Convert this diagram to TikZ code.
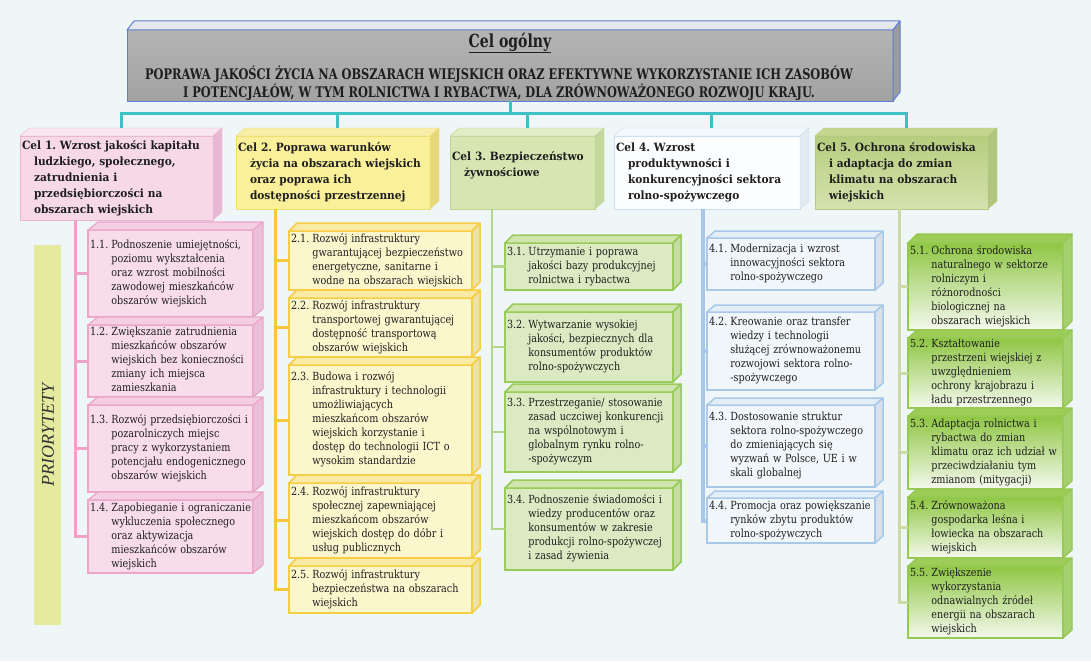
\documentclass[tikz,border=0pt]{standalone}
\usepackage{fontspec}
\setmainfont{DejaVu Serif}[FakeStretch=0.93]
\newfontfamily\subfam{DejaVu Serif}[FakeStretch=0.86]
\newfontfamily\condfont{DejaVu Serif}[FakeStretch=0.78]
\newfontfamily\prifont{Liberation Serif}
\usetikzlibrary{calc}
\frenchspacing
\definecolor{bg}{HTML}{EEF6F7}
\definecolor{txt}{HTML}{1E1E1E}
\definecolor{tealL}{HTML}{3EC1C3}
\definecolor{topA}{HTML}{B4B4B4}\definecolor{topB}{HTML}{A2A2A2}
\definecolor{topD}{HTML}{5F7ED0}\definecolor{topT}{HTML}{E4E8EC}\definecolor{topS}{HTML}{9C9C9C}
\definecolor{pinkL}{HTML}{F3A0C6}
\definecolor{c1F}{HTML}{F7D8E7}\definecolor{c1D}{HTML}{E8B4D0}\definecolor{c1T}{HTML}{FAE6F0}\definecolor{c1S}{HTML}{E6B9D3}
\definecolor{s1F}{HTML}{F8DCEA}\definecolor{s1D}{HTML}{EDA6CA}\definecolor{s1T}{HTML}{F4CEE1}\definecolor{s1S}{HTML}{ECBFD8}
\definecolor{yelL}{HTML}{F6C73A}
\definecolor{c2F}{HTML}{FAF09A}\definecolor{c2D}{HTML}{EEDD70}\definecolor{c2T}{HTML}{F7EDA6}\definecolor{c2S}{HTML}{E6D878}
\definecolor{s2F}{HTML}{FBF6CC}\definecolor{s2D}{HTML}{F6CE45}\definecolor{s2T}{HTML}{F9EBA5}\definecolor{s2S}{HTML}{ECE2A4}
\definecolor{grnL}{HTML}{B4D58A}
\definecolor{c3F}{HTML}{D6E6B3}\definecolor{c3D}{HTML}{BFD693}\definecolor{c3T}{HTML}{E0EDC6}\definecolor{c3S}{HTML}{C3D89B}
\definecolor{s3F}{HTML}{DBEAC2}\definecolor{s3D}{HTML}{98CB58}\definecolor{s3T}{HTML}{D0E4AE}\definecolor{s3S}{HTML}{C6DCA6}
\definecolor{bluL}{HTML}{A7C7EA}
\definecolor{c4F}{HTML}{FCFDFE}\definecolor{c4D}{HTML}{C9DDF0}\definecolor{c4T}{HTML}{F3F8FC}\definecolor{c4S}{HTML}{E2EAF2}
\definecolor{s4F}{HTML}{F0F6F9}\definecolor{s4D}{HTML}{A9C8EA}\definecolor{s4T}{HTML}{E4EEF6}\definecolor{s4S}{HTML}{D6E1EC}
\definecolor{oliL}{HTML}{CDD9A6}
\definecolor{c5A}{HTML}{B6CD7E}\definecolor{c5B}{HTML}{D4E2AE}\definecolor{c5D}{HTML}{B3CA80}\definecolor{c5T}{HTML}{C3D78E}\definecolor{c5S}{HTML}{B0C67E}
\definecolor{s5A}{HTML}{8FC643}\definecolor{s5B}{HTML}{F4F9EE}\definecolor{s5D}{HTML}{95C951}\definecolor{s5T}{HTML}{9DCC58}\definecolor{s5S}{HTML}{A6CF6D}
\definecolor{priB}{HTML}{E4EB9F}\definecolor{priT}{HTML}{333333}
\newcommand\subfont{\subfam\fontsize{11.2}{14}\selectfont}
\newcommand\celfont{\bfseries\fontsize{11.4}{16}\selectfont}
\newcommand\subtxt[2]{\noindent\begin{tabular}{@{}l@{\hspace{3pt}}l@{}}#1&#2\end{tabular}}
\newcommand\celtxt[1]{\noindent\begin{tabular}{@{}l@{}}#1\end{tabular}}
\newcommand\ind{\hspace*{12pt}}
\newcommand\cubefaces[5]{%
 \filldraw[#5,fill=#3,line join=round] (#1.north west) -- ++(#2) -- ($(#1.north east)+(#2)$) -- (#1.north east) -- cycle;
 \filldraw[#5,fill=#4,line join=round] (#1.north east) -- ++(#2) -- ($(#1.south east)+(#2)$) -- (#1.south east) -- cycle;}
\begin{document}
\begin{tikzpicture}[x=1pt,y=-1pt,
  every node/.style={outer sep=0pt},
  cel/.style={rectangle, anchor=north west, inner xsep=2pt, inner ysep=0pt, font=\celfont, text=txt, align=left},
  subb/.style={rectangle, anchor=north west, inner xsep=2pt, inner ysep=0pt, font=\subfont, text=txt, align=left},
  conn/.style={line width=3pt, line join=miter},
  col1/.style={fill=s1F, draw=s1D, line width=1.2pt, minimum width=165pt, text width=161pt},
  col2/.style={fill=s2F, draw=s2D, line width=1.5pt, minimum width=183pt, text width=179pt},
  col3/.style={fill=s3F, draw=s3D, line width=1.5pt, minimum width=168pt, text width=164pt},
  col4/.style={fill=s4F, draw=s4D, line width=1.5pt, minimum width=168pt, text width=164pt},
  col5/.style={top color=s5A, bottom color=s5B, draw=s5D, line width=1.2pt, minimum width=155pt, text width=151pt},
]
\fill[bg] (0,0) rectangle (1091,661);
\useasboundingbox (0,0) rectangle (1091,661);

% ---- top box
\node[anchor=north west, minimum width=766pt, minimum height=71pt, top color=topA, bottom color=topB, draw=topD, line width=1pt] (top) at (127,30) {};
\cubefaces{top}{7,-9}{topT}{topS}{draw=topD,line width=1pt}
\node[font=\condfont\bfseries\fontsize{18}{18}\selectfont, text=txt] (title) at (510,43) {\underline{Cel ogólny}};
\node[font=\condfont\bfseries\fontsize{14.6}{16}\selectfont, text=txt, align=center] (goal) at (499,83) {POPRAWA JAKOŚCI ŻYCIA NA OBSZARACH WIEJSKICH ORAZ EFEKTYWNE WYKORZYSTANIE ICH ZASOBÓW\\I POTENCJAŁÓW, W TYM ROLNICTWA I RYBACTWA, DLA ZRÓWNOWAŻONEGO ROZWOJU KRAJU.};

% ---- priorities bar
\node[anchor=north west, fill=priB, minimum width=27pt, minimum height=380pt, inner sep=0pt] (pri) at (34,245) {};
\node[rotate=90, font=\prifont\itshape\fontsize{18}{18}\selectfont, text=priT] (pritxt) at (48,435) {PRIORYTETY};

% ---- goal boxes
\node[cel, fill=c1F, draw=c1D, minimum width=193pt, minimum height=84pt, text width=189pt] (c1) at (20,136)
 {\celtxt{Cel 1. Wzrost jakości kapitału\\\ind ludzkiego, społecznego,\\\ind zatrudnienia i\\\ind przedsiębiorczości na\\\ind obszarach wiejskich}};
\cubefaces{c1}{9,-8}{c1T}{c1S}{draw=c1D}
\node[cel, fill=c2F, draw=c2D, minimum width=194pt, minimum height=73pt, text width=190pt] (c2) at (236,136)
 {\celtxt{Cel 2. Poprawa warunków\\\ind życia na obszarach wiejskich\\\ind oraz poprawa ich\\\ind dostępności przestrzennej}};
\cubefaces{c2}{9,-8}{c2T}{c2S}{draw=c2D}
\node[cel, fill=c3F, draw=c3D, minimum width=145pt, minimum height=73pt, text width=141pt] (c3) at (450,136)
 {\raisebox{7pt}[\height][\depth]{\celtxt{Cel 3. Bezpieczeństwo\\\ind żywnościowe}}};
\cubefaces{c3}{9,-8}{c3T}{c3S}{draw=c3D}
\node[cel, fill=c4F, draw=c4D, minimum width=186pt, minimum height=73pt, text width=182pt] (c4) at (614,136)
 {\celtxt{Cel 4. Wzrost\\\ind produktywności i\\\ind konkurencyjności sektora\\\ind rolno-spożywczego}};
\cubefaces{c4}{9,-8}{c4T}{c4S}{draw=c4D}
\node[cel, top color=c5A, bottom color=c5B, draw=c5D, minimum width=173pt, minimum height=73pt, text width=169pt] (c5) at (815,136)
 {\celtxt{Cel 5. Ochrona środowiska\\\ind i adaptacja do zmian\\\ind klimatu na obszarach\\\ind wiejskich}};
\cubefaces{c5}{9,-8}{c5T}{c5S}{draw=c5D}

% ---- column 1
\node[subb, col1, minimum height=87pt] (s11) at (88,230) {\subtxt{1.1.}{Podnoszenie umiejętności,\\& poziomu wykształcenia\\& oraz wzrost mobilności\\& zawodowej mieszkańców\\& obszarów wiejskich}};
\cubefaces{s11}{10,-8}{s1T}{s1S}{draw=s1D,line width=1.2pt}
\node[subb, col1, minimum height=72pt] (s12) at (88,325) {\subtxt{1.2.}{Zwiększanie zatrudnienia\\& mieszkańców obszarów\\& wiejskich bez konieczności\\& zmiany ich miejsca\\& zamieszkania}};
\cubefaces{s12}{10,-8}{s1T}{s1S}{draw=s1D,line width=1.2pt}
\node[subb, col1, minimum height=87pt] (s13) at (88,405) {\subtxt{1.3.}{Rozwój przedsiębiorczości i\\& pozarolniczych miejsc\\& pracy z wykorzystaniem\\& potencjału endogenicznego\\& obszarów wiejskich}};
\cubefaces{s13}{10,-8}{s1T}{s1S}{draw=s1D,line width=1.2pt}
\node[subb, col1, minimum height=73pt] (s14) at (88,500) {\subtxt{1.4.}{Zapobieganie i ograniczanie\\& wykluczenia społecznego\\& oraz aktywizacja\\& mieszkańców obszarów\\& wiejskich}};
\cubefaces{s14}{10,-8}{s1T}{s1S}{draw=s1D,line width=1.2pt}

% ---- column 2
\node[subb, col2, minimum height=59pt] (s21) at (289,231) {\subtxt{2.1.}{Rozwój infrastruktury\\& gwarantującej bezpieczeństwo\\& energetyczne, sanitarne i\\& wodne na obszarach wiejskich}};
\cubefaces{s21}{8,-8}{s2T}{s2S}{draw=s2D,line width=1.5pt}
\node[subb, col2, minimum height=59pt] (s22) at (289,298) {\subtxt{2.2.}{Rozwój infrastruktury\\& transportowej gwarantującej\\& dostępność transportową\\& obszarów wiejskich}};
\cubefaces{s22}{8,-8}{s2T}{s2S}{draw=s2D,line width=1.5pt}
\node[subb, col2, minimum height=110pt] (s23) at (289,365) {\subtxt{2.3.}{Budowa i rozwój\\& infrastruktury i technologii\\& umożliwiających\\& mieszkańcom obszarów\\& wiejskich korzystanie i\\& dostęp do technologii ICT o\\& wysokim standardzie}};
\cubefaces{s23}{8,-8}{s2T}{s2S}{draw=s2D,line width=1.5pt}
\node[subb, col2, minimum height=75pt] (s24) at (289,483) {\subtxt{2.4.}{Rozwój infrastruktury\\& społecznej zapewniającej\\& mieszkańcom obszarów\\& wiejskich dostęp do dóbr i\\& usług publicznych}};
\cubefaces{s24}{8,-8}{s2T}{s2S}{draw=s2D,line width=1.5pt}
\node[subb, col2, minimum height=47pt] (s25) at (289,566) {\subtxt{2.5.}{Rozwój infrastruktury\\& bezpieczeństwa na obszarach\\& wiejskich}};
\cubefaces{s25}{8,-8}{s2T}{s2S}{draw=s2D,line width=1.5pt}

% ---- column 3
\node[subb, col3, minimum height=47pt] (s31) at (505,243) {\subtxt{3.1.}{Utrzymanie i poprawa\\& jakości bazy produkcyjnej\\& rolnictwa i rybactwa}};
\cubefaces{s31}{8,-8}{s3T}{s3S}{draw=s3D,line width=1.5pt}
\node[subb, col3, minimum height=70pt] (s32) at (505,312) {\subtxt{3.2.}{Wytwarzanie wysokiej\\& jakości, bezpiecznych dla\\& konsumentów produktów\\& rolno-spożywczych}};
\cubefaces{s32}{8,-8}{s3T}{s3S}{draw=s3D,line width=1.5pt}
\node[subb, col3, minimum height=80pt] (s33) at (505,392) {\subtxt{3.3.}{Przestrzeganie/ stosowanie\\& zasad uczciwej konkurencji\\& na wspólnotowym i\\& globalnym rynku rolno-\\& -spożywczym}};
\cubefaces{s33}{8,-8}{s3T}{s3S}{draw=s3D,line width=1.5pt}
\node[subb, col3, minimum height=82pt] (s34) at (505,488) {\subtxt{3.4.}{Podnoszenie świadomości i\\& wiedzy producentów oraz\\& konsumentów w zakresie\\& produkcji rolno-spożywczej\\& i zasad żywienia}};
\cubefaces{s34}{8,-8}{s3T}{s3S}{draw=s3D,line width=1.5pt}

% ---- column 4
\node[subb, col4, minimum height=52pt] (s41) at (707,238) {\subtxt{4.1.}{Modernizacja i wzrost\\& innowacyjności sektora\\& rolno-spożywczego}};
\cubefaces{s41}{8,-7}{s4T}{s4S}{draw=s4D,line width=1.5pt}
\node[subb, col4, minimum height=78pt] (s42) at (707,312) {\subtxt{4.2.}{Kreowanie oraz transfer\\& wiedzy i technologii\\& służącej zrównoważonemu\\& rozwojowi sektora rolno-\\& -spożywczego}};
\cubefaces{s42}{8,-7}{s4T}{s4S}{draw=s4D,line width=1.5pt}
\node[subb, col4, minimum height=82pt] (s43) at (707,405) {\subtxt{4.3.}{Dostosowanie struktur\\& sektora rolno-spożywczego\\& do zmieniających się\\& wyzwań w Polsce, UE i w\\& skali globalnej}};
\cubefaces{s43}{8,-7}{s4T}{s4S}{draw=s4D,line width=1.5pt}
\node[subb, col4, minimum height=45pt] (s44) at (707,498) {\subtxt{4.4.}{Promocja oraz powiększanie\\& rynków zbytu produktów\\& rolno-spożywczych}};
\cubefaces{s44}{8,-7}{s4T}{s4S}{draw=s4D,line width=1.5pt}

% ---- column 5
\node[subb, col5, minimum height=87pt] (s51) at (908,243) {\subtxt{5.1.}{Ochrona środowiska\\& naturalnego w sektorze\\& rolniczym i\\& różnorodności\\& biologicznej na\\& obszarach wiejskich}};
\cubefaces{s51}{9,-9}{s5T}{s5S}{draw=s5D,line width=1.2pt}
\node[subb, col5, minimum height=70pt] (s52) at (908,338) {\subtxt{5.2.}{Kształtowanie\\& przestrzeni wiejskiej z\\& uwzględnieniem\\& ochrony krajobrazu i\\& ładu przestrzennego}};
\cubefaces{s52}{9,-8}{s5T}{s5S}{draw=s5D,line width=1.2pt}
\node[subb, col5, minimum height=73pt] (s53) at (908,416) {\subtxt{5.3.}{Adaptacja rolnictwa i\\& rybactwa do zmian\\& klimatu oraz ich udział w\\& przeciwdziałaniu tym\\& zmianom (mitygacji)}};
\cubefaces{s53}{9,-8}{s5T}{s5S}{draw=s5D,line width=1.2pt}
\node[subb, col5, minimum height=61pt] (s54) at (908,497) {\subtxt{5.4.}{Zrównoważona\\& gospodarka leśna i\\& łowiecka na obszarach\\& wiejskich}};
\cubefaces{s54}{9,-8}{s5T}{s5S}{draw=s5D,line width=1.2pt}
\node[subb, col5, minimum height=72pt] (s55) at (908,566) {\subtxt{5.5.}{Zwiększenie\\& wykorzystania\\& odnawialnych źródeł\\& energii na obszarach\\& wiejskich}};
\cubefaces{s55}{9,-8}{s5T}{s5S}{draw=s5D,line width=1.2pt}

% ---- teal connectors from the main goal
\coordinate (bus) at (0,113);
\foreach \c in {c1,c2,c3,c4,c5} \coordinate (\c t) at ($(\c.north)+(4.5,-8)$);
\draw[conn, tealL] (top.south) -- (top.south |- bus);
\draw[conn, tealL] (c1t) -- (c1t |- bus) -- (c5t |- bus) -- (c5t);
\foreach \c in {c2,c3,c4} \draw[conn, tealL] (\c t |- bus) -- (\c t);

% ---- column connectors
\coordinate (v1) at (75,0);
\draw[conn, pinkL] (v1 |- c1.south) |- (s14.west);
\foreach \s in {s11,s12,s13} \draw[conn, pinkL] (v1 |- \s.west) -- (\s.west);
\coordinate (v2) at (275,0);
\draw[conn, yelL] (v2 |- c2.south) |- (s25.west);
\foreach \s in {s21,s22,s23,s24} \draw[conn, yelL] (v2 |- \s.west) -- (\s.west);
\coordinate (v3) at (492,0);
\draw[conn, grnL, line width=2.5pt] (v3 |- c3.south) |- (s34.west);
\foreach \s in {s31,s32,s33} \draw[conn, grnL, line width=2.5pt] (v3 |- \s.west) -- (\s.west);
\coordinate (v4) at (703,0);
\draw[conn, bluL, line width=4pt] (v4 |- c4.south) |- (s44.west);
\foreach \s in {s41,s42,s43} \draw[conn, bluL, line width=4pt] (v4 |- \s.west) -- (\s.west);
\coordinate (v5) at (899,0);
\draw[conn, oliL] (v5 |- c5.south) |- (s55.west);
\foreach \s in {s51,s52,s53,s54} \draw[conn, oliL] (v5 |- \s.west) -- (\s.west);
\end{tikzpicture}
\end{document}
